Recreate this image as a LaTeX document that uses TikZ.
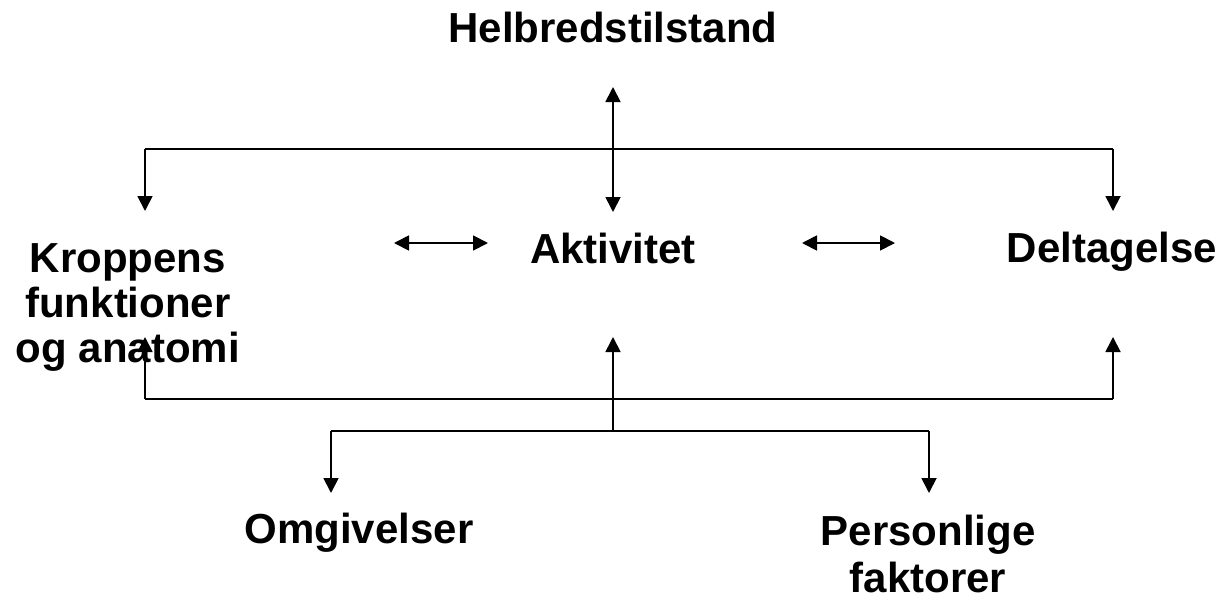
\documentclass[tikz,border=0pt]{standalone}
\usepackage{fontspec}
\setmainfont{Liberation Sans}
\usetikzlibrary{arrows.meta}
\begin{document}
\begin{tikzpicture}[x=1pt,y=-1pt,
  lbl/.style={font=\fontsize{42}{45}\selectfont\bfseries, inner sep=0pt, align=center, anchor=base},
  conn/.style={line width=1.8pt, draw=black},
  tipend/.style={-{Triangle[length=15pt,width=15pt]}},
  tipboth/.style={{Triangle[length=15pt,width=15pt]}-{Triangle[length=15pt,width=15pt]}}]
\useasboundingbox (0,0) rectangle (1225,600);
% nodes (base anchor = baseline of last line)
\node[lbl] (h) at (613,42) {Helbredstilstand};
\node[lbl] (a) at (613,263) {Aktivitet};
\node[lbl] (k) at (128,362) {Kroppens\\funktioner\\og anatomi};
\node[lbl] (d) at (1112,262) {Deltagelse};
\node[lbl] (o) at (359,543) {Omgivelser};
\node[lbl, font=\fontsize{42}{47}\selectfont\bfseries] (p) at (928,592) {Personlige\\faktorer};
% coordinates
\coordinate (tl) at (145,149);
\coordinate (tr) at (1113,149);
\coordinate (ktop) at (145,211);
\coordinate (dtop) at (1113,211);
\coordinate (htip) at (613,87);
\coordinate (atop) at (613,212);
\coordinate (bl) at (145,399);
\coordinate (br) at (1113,399);
\coordinate (kbot) at (145,337);
\coordinate (dbot) at (1113,337);
\coordinate (abot) at (613,337);
\coordinate (lc) at (613,431);
\coordinate (ll) at (331,431);
\coordinate (lr) at (929,431);
\coordinate (otip) at (331,493);
\coordinate (ptip) at (929,493);
\coordinate (ka1) at (394,243);
\coordinate (ka2) at (488,243);
\coordinate (ad1) at (802,243);
\coordinate (ad2) at (895,243);
% connectors
\draw[conn] (tl) -- (tr);
\draw[conn,tipend] (tl) -- (ktop);
\draw[conn,tipend] (tr) -- (dtop);
\draw[conn,tipboth] (htip) -- (atop);
\draw[conn,tipboth] (ka1) -- (ka2);
\draw[conn,tipboth] (ad1) -- (ad2);
\draw[conn] (bl) -- (br);
\draw[conn,tipend] (bl) -- (kbot);
\draw[conn,tipend] (br) -- (dbot);
\draw[conn,tipend] (lc) -- (abot);
\draw[conn] (ll) -- (lr);
\draw[conn,tipend] (ll) -- (otip);
\draw[conn,tipend] (lr) -- (ptip);
\end{tikzpicture}
\end{document}
